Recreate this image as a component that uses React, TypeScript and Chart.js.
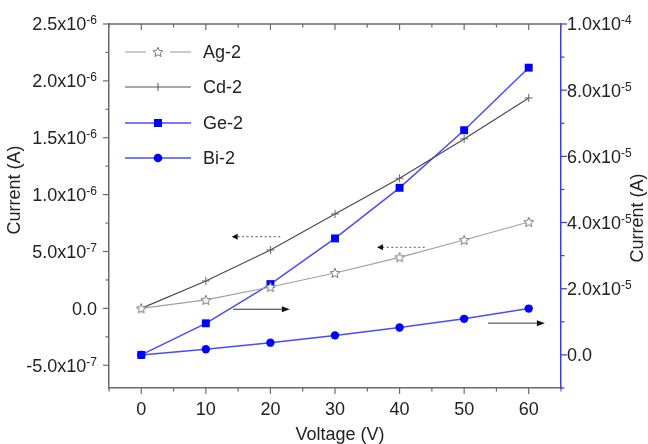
import React, { useEffect, useRef } from 'react';
import { Chart, registerables } from 'chart.js';

Chart.register(...registerables);

// ---- data ----
const voltage = [0, 10, 20, 30, 40, 50, 60];
const ag2 = [0, 0.74e-7, 1.88e-7, 3.11e-7, 4.49e-7, 6.01e-7, 7.59e-7];
const cd2 = [0, 2.41e-7, 5.13e-7, 8.3e-7, 1.144e-6, 1.49e-6, 1.85e-6];
const ge2 = [0, 0.955e-5, 2.14e-5, 3.52e-5, 5.05e-5, 6.79e-5, 8.68e-5];
const bi2 = [0, 0.17e-5, 0.37e-5, 0.59e-5, 0.83e-5, 1.09e-5, 1.4e-5];

const seriesNames = ['Ag-2', 'Cd-2', 'Ge-2', 'Bi-2'];

const xTicks = [0, 10, 20, 30, 40, 50, 60];
const xMinorTicks = [-5, 5, 15, 25, 35, 45, 55, 65];
const leftTicks = [-5e-7, 0, 5e-7, 1e-6, 1.5e-6, 2e-6, 2.5e-6];
const leftTickMain = ['-5.0x10', '0.0', '5.0x10', '1.0x10', '1.5x10', '2.0x10', '2.5x10'];
const leftTickExp = ['-7', '', '-7', '-6', '-6', '-6', '-6'];
const leftMinorTicks = [-2.5e-7, 2.5e-7, 7.5e-7, 1.25e-6, 1.75e-6, 2.25e-6];
const rightTicks = [0, 2e-5, 4e-5, 6e-5, 8e-5, 1e-4];
const rightTickMain = ['0.0', '2.0x10', '4.0x10', '6.0x10', '8.0x10', '1.0x10'];
const rightTickExp = ['', '-5', '-5', '-5', '-5', '-4'];
const rightMinorTicks = [-1e-5, 1e-5, 3e-5, 5e-5, 7e-5, 9e-5];

// annotation arrows: [fromX, toX, y, axis, dotted]
const arrowFromX = [21.5, 43.9, 14.2, 53.7];
const arrowToX = [14.0, 36.5, 23.0, 62.5];
const arrowY = [6.3e-7, 5.37e-7, 1.38e-5, 0.96e-5];
const arrowAxis = ['y', 'y', 'y2', 'y2'];
const arrowDotted = [true, true, false, false];

const FONT = '"Liberation Sans", Arial, Helvetica, sans-serif';
const GRAY_AXIS = '#6a6a6a';
const BLUE_AXIS = '#3a3aff';
const TEXT = '#222';

function makeStar(): HTMLCanvasElement {
  const c = document.createElement('canvas');
  c.width = 12;
  c.height = 12;
  const g = c.getContext('2d')!;
  g.beginPath();
  for (let i = 0; i < 10; i++) {
    const r = i % 2 === 0 ? 5.2 : 2.3;
    const a = -Math.PI / 2 + (i * Math.PI) / 5;
    const px = 6 + r * Math.cos(a);
    const py = 6.4 + r * Math.sin(a);
    if (i === 0) g.moveTo(px, py);
    else g.lineTo(px, py);
  }
  g.closePath();
  g.fillStyle = '#fff';
  g.fill();
  g.strokeStyle = '#7a7a7a';
  g.lineWidth = 1;
  g.stroke();
  return c;
}

function line(ctx: CanvasRenderingContext2D, x0: number, y0: number, x1: number, y1: number) {
  ctx.beginPath();
  ctx.moveTo(x0, y0);
  ctx.lineTo(x1, y1);
  ctx.stroke();
}

function sciLabel(
  ctx: CanvasRenderingContext2D,
  main: string,
  exp: string,
  x: number,
  y: number,
  align: 'left' | 'right'
) {
  ctx.font = `18px ${FONT}`;
  const mw = ctx.measureText(main).width;
  ctx.font = `12px ${FONT}`;
  const ew = exp ? ctx.measureText(exp).width : 0;
  const total = mw + ew;
  const start = align === 'right' ? x - total : x;
  const base = y + 6.4;
  ctx.textAlign = 'left';
  ctx.textBaseline = 'alphabetic';
  ctx.font = `18px ${FONT}`;
  ctx.fillText(main, start, base);
  if (exp) {
    ctx.font = `12px ${FONT}`;
    ctx.fillText(exp, start + mw, base - 6);
  }
}

export default function App() {
  const ref = useRef<HTMLCanvasElement | null>(null);

  useEffect(() => {
    if (!ref.current) return;
    const star = makeStar();

    const decor = {
      id: 'decor',
      afterDraw(chart: any) {
        const { ctx, chartArea: ca, scales } = chart;
        const sx = scales.x;
        const sy = scales.y;
        const sy2 = scales.y2;
        ctx.save();

        // top frame
        ctx.strokeStyle = GRAY_AXIS;
        ctx.lineWidth = 1.5;
        line(ctx, ca.left, ca.top, ca.right, ca.top);

        // x ticks (bottom outward, top inward)
        ctx.lineWidth = 1.2;
        xTicks.forEach((v) => {
          const px = sx.getPixelForValue(v);
          line(ctx, px, ca.bottom, px, ca.bottom + 6);
          line(ctx, px, ca.top, px, ca.top + 6);
        });
        xMinorTicks.forEach((v) => {
          const px = sx.getPixelForValue(v);
          line(ctx, px, ca.bottom, px, ca.bottom + 3.5);
          line(ctx, px, ca.top, px, ca.top + 3.5);
        });
        // left ticks
        leftTicks.forEach((v) => {
          const py = sy.getPixelForValue(v);
          line(ctx, ca.left - 6, py, ca.left, py);
        });
        leftMinorTicks.forEach((v) => {
          const py = sy.getPixelForValue(v);
          line(ctx, ca.left - 3.5, py, ca.left, py);
        });
        // right ticks
        ctx.strokeStyle = BLUE_AXIS;
        rightTicks.forEach((v) => {
          const py = sy2.getPixelForValue(v);
          line(ctx, ca.right, py, ca.right + 6, py);
        });
        rightMinorTicks.forEach((v) => {
          const py = sy2.getPixelForValue(v);
          line(ctx, ca.right, py, ca.right + 3.5, py);
        });

        // tick labels
        ctx.fillStyle = TEXT;
        leftTicks.forEach((v, i) => {
          sciLabel(ctx, leftTickMain[i], leftTickExp[i], ca.left - 12, sy.getPixelForValue(v), 'right');
        });
        rightTicks.forEach((v, i) => {
          sciLabel(ctx, rightTickMain[i], rightTickExp[i], ca.right + 6, sy2.getPixelForValue(v), 'left');
        });
        ctx.font = `18px ${FONT}`;
        ctx.textAlign = 'center';
        ctx.textBaseline = 'alphabetic';
        xTicks.forEach((v) => {
          ctx.fillText(String(v), sx.getPixelForValue(v), ca.bottom + 26.5);
        });

        // axis titles
        ctx.fillText('Voltage (V)', (ca.left + ca.right) / 2 + 5, ca.bottom + 51.5);
        ctx.save();
        ctx.translate(15, 190);
        ctx.rotate(-Math.PI / 2);
        ctx.textBaseline = 'middle';
        ctx.fillText('Current (A)', 0, 0);
        ctx.restore();
        ctx.save();
        ctx.translate(chart.width - 10, 218);
        ctx.rotate(-Math.PI / 2);
        ctx.textBaseline = 'middle';
        ctx.fillText('Current (A)', 0, 0);
        ctx.restore();

        // arrows
        arrowFromX.forEach((fx, i) => {
          const scaleY = arrowAxis[i] === 'y' ? sy : sy2;
          const py = scaleY.getPixelForValue(arrowY[i]);
          const p0 = sx.getPixelForValue(fx);
          const p1 = sx.getPixelForValue(arrowToX[i]);
          const dir = p1 > p0 ? 1 : -1;
          const headLen = arrowDotted[i] ? 6 : 8;
          ctx.strokeStyle = arrowDotted[i] ? '#777' : '#333';
          ctx.lineWidth = arrowDotted[i] ? 1.3 : 1;
          ctx.setLineDash(arrowDotted[i] ? [2, 2.5] : []);
          line(ctx, p0, py, p1 - dir * headLen, py);
          ctx.setLineDash([]);
          ctx.fillStyle = '#111';
          ctx.beginPath();
          ctx.moveTo(p1, py);
          ctx.lineTo(p1 - dir * headLen, py - 3);
          ctx.lineTo(p1 - dir * headLen, py + 3);
          ctx.closePath();
          ctx.fill();
        });

        // legend
        const legY = [52, 87, 123, 158];
        const lx0 = 125;
        const lx1 = 191;
        const mx = 158;
        seriesNames.forEach((name, i) => {
          const yy = legY[i];
          if (i === 0) {
            ctx.strokeStyle = '#a8a8a8';
            ctx.lineWidth = 1.2;
            line(ctx, lx0, yy, 146, yy);
            line(ctx, 170, yy, lx1, yy);
            ctx.drawImage(star, mx - 6, yy - 6);
          } else if (i === 1) {
            ctx.strokeStyle = '#555';
            ctx.lineWidth = 1.2;
            line(ctx, lx0, yy, lx1, yy);
            ctx.lineWidth = 1;
            line(ctx, mx, yy - 4, mx, yy + 4);
          } else {
            ctx.strokeStyle = '#4a4aff';
            ctx.lineWidth = 1.5;
            line(ctx, lx0, yy, lx1, yy);
            ctx.fillStyle = '#0000ff';
            if (i === 2) {
              ctx.fillRect(mx - 4, yy - 4, 8, 8);
            } else {
              ctx.beginPath();
              ctx.arc(mx, yy, 4.3, 0, Math.PI * 2);
              ctx.fill();
            }
          }
          ctx.fillStyle = TEXT;
          ctx.font = `18px ${FONT}`;
          ctx.textAlign = 'left';
          ctx.textBaseline = 'alphabetic';
          ctx.fillText(name, 203, yy + 6.4);
        });

        ctx.restore();
      },
    };

    const pts = (arr: number[]) => voltage.map((v, i) => ({ x: v, y: arr[i] }));

    const chart = new Chart(ref.current, {
      type: 'line',
      data: {
        datasets: [
          {
            label: seriesNames[0],
            data: pts(ag2),
            yAxisID: 'y',
            borderColor: '#a0a0a0',
            borderWidth: 1.2,
            pointStyle: star as any,
            pointRadius: 5,
            pointHoverRadius: 5,
          },
          {
            label: seriesNames[1],
            data: pts(cd2),
            yAxisID: 'y',
            borderColor: '#4a4a4a',
            borderWidth: 1.2,
            pointStyle: 'cross',
            pointRadius: 4,
            pointBorderColor: '#666',
            pointBorderWidth: 1,
          },
          {
            label: seriesNames[2],
            data: pts(ge2),
            yAxisID: 'y2',
            borderColor: '#4a4aff',
            borderWidth: 1.5,
            pointStyle: 'rect',
            pointRadius: 5.6,
            pointBackgroundColor: '#0000ff',
            pointBorderColor: '#0000ff',
            pointBorderWidth: 0,
          },
          {
            label: seriesNames[3],
            data: pts(bi2),
            yAxisID: 'y2',
            borderColor: '#4a4aff',
            borderWidth: 1.5,
            pointStyle: 'circle',
            pointRadius: 4.2,
            pointBackgroundColor: '#0000ff',
            pointBorderColor: '#0000ff',
            pointBorderWidth: 0,
          },
        ],
      },
      options: {
        animation: false,
        responsive: false,
        devicePixelRatio: 1,
        layout: { padding: { top: 24, left: 0, right: 0, bottom: 0 } },
        plugins: { legend: { display: false }, tooltip: { enabled: false } },
        elements: { line: { tension: 0 } },
        scales: {
          x: {
            type: 'linear',
            position: 'bottom',
            min: -5,
            max: 65,
            ticks: { display: false },
            grid: { display: false },
            border: { display: true, color: GRAY_AXIS, width: 1.5 },
            afterFit: (s: any) => {
              s.height = 56;
            },
          },
          y: {
            type: 'linear',
            position: 'left',
            min: -7e-7,
            max: 2.5e-6,
            ticks: { display: false },
            grid: { display: false },
            border: { display: true, color: GRAY_AXIS, width: 1.5 },
            afterFit: (s: any) => {
              s.width = 109;
            },
          },
          y2: {
            type: 'linear',
            position: 'right',
            min: -1e-5,
            max: 1e-4,
            ticks: { display: false },
            grid: { display: false },
            border: { display: true, color: BLUE_AXIS, width: 1.5 },
            afterFit: (s: any) => {
              s.width = 87;
            },
          },
        },
      },
      plugins: [decor],
    });

    return () => chart.destroy();
  }, []);

  return (
    <div style={{ position: 'fixed', left: 0, top: 0, width: 648, height: 444, background: '#fff' }}>
      <canvas ref={ref} width={648} height={444} style={{ display: 'block' }} />
    </div>
  );
}
